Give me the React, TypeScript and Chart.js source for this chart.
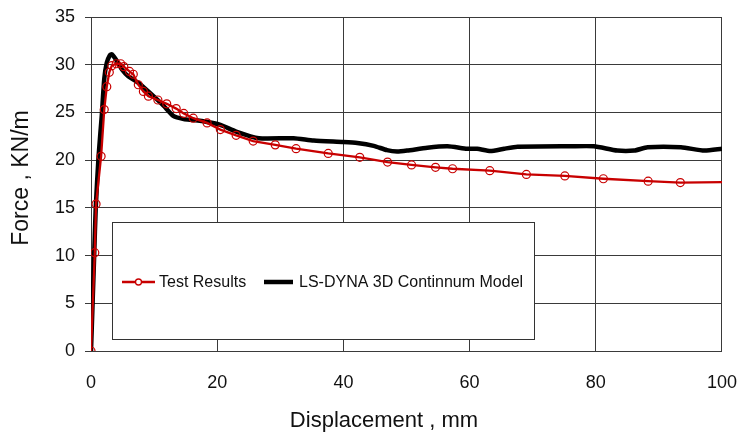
import React, { useEffect, useRef } from "react";
import { Chart, registerables } from "chart.js";

Chart.register(...registerables);

// Test Results (red, circle markers)
const testX = [0, 0.6, 0.8, 1.6, 2.1, 2.5, 2.9, 3.3, 4.0, 4.7, 5.2, 6.1, 6.7, 7.5, 8.3, 9.1, 10.6, 12.0, 13.5, 14.7, 16.2, 18.4, 20.5, 23.0, 25.7, 29.2, 32.5, 37.6, 42.6, 47.0, 50.8, 54.6, 57.3, 63.2, 69.0, 75.1, 81.2, 88.3, 93.4, 100];
const testY = [0, 10.3, 15.4, 20.4, 25.3, 27.7, 29.2, 29.9, 30.1, 30.1, 29.8, 29.3, 29.0, 27.9, 27.2, 26.7, 26.3, 25.9, 25.4, 24.9, 24.4, 23.9, 23.2, 22.6, 22.0, 21.6, 21.2, 20.7, 20.3, 19.8, 19.5, 19.25, 19.1, 18.9, 18.5, 18.35, 18.05, 17.8, 17.65, 17.7];

// LS-DYNA 3D Continnum Model (thick black)
const dynaX = [0, 0.5, 0.75, 1.2, 1.7, 2.1, 2.5, 3.0, 3.3, 4.1, 4.9, 5.9, 7.5, 9.9, 11.5, 13.1, 14.7, 16.2, 18.4, 20.5, 23.0, 26.6, 32.1, 35.3, 40.0, 42.2, 44.8, 46.9, 48.5, 50.1, 53.3, 56.5, 59.6, 61.2, 63.3, 65.5, 67.6, 76.0, 79.7, 83.4, 86.1, 88.2, 93.5, 97.2, 100];
const dynaY = [0, 10, 15, 20.4, 24.6, 28.5, 30.2, 31.0, 31.1, 30.4, 29.5, 28.8, 28.1, 26.7, 25.7, 24.6, 24.3, 24.2, 24.0, 23.7, 23.0, 22.3, 22.3, 22.05, 21.9, 21.8, 21.5, 21.05, 20.9, 21.0, 21.3, 21.45, 21.2, 21.2, 20.95, 21.2, 21.4, 21.45, 21.45, 21.0, 21.0, 21.35, 21.35, 21.0, 21.2];

const seriesNames = ["Test Results", "LS-DYNA 3D Continnum Model"];
const xTitle = "Displacement , mm";
const yTitle = "Force , KN/m";
const xRange = [0, 100, 20];
const yRange = [0, 35, 5];

const FONT = "'Liberation Sans', Arial, Helvetica, sans-serif";
const RED = "#C80000";
const GRID = "#3a3a3a";

const boxLegend = {
  id: "boxLegend",
  afterDatasetsDraw(chart: any) {
    const ctx = chart.ctx as CanvasRenderingContext2D;
    ctx.save();
    const x0 = 112.5, y0 = 222.5, x1 = 534.5, y1 = 339.5;
    ctx.fillStyle = "#ffffff";
    ctx.fillRect(x0, y0, x1 - x0, y1 - y0);
    ctx.strokeStyle = "#333333";
    ctx.lineWidth = 1;
    ctx.strokeRect(x0, y0, x1 - x0, y1 - y0);
    const cy = 282;
    // red item
    ctx.strokeStyle = RED;
    ctx.lineWidth = 2.5;
    ctx.beginPath();
    ctx.moveTo(122, cy);
    ctx.lineTo(155, cy);
    ctx.stroke();
    ctx.lineWidth = 1.3;
    ctx.beginPath();
    ctx.arc(138.5, cy, 3, 0, Math.PI * 2);
    ctx.fillStyle = "#ffffff";
    ctx.fill();
    ctx.stroke();
    // black item
    ctx.strokeStyle = "#000000";
    ctx.lineWidth = 4.5;
    ctx.beginPath();
    ctx.moveTo(264, cy);
    ctx.lineTo(293, cy);
    ctx.stroke();
    ctx.fillStyle = "#111111";
    ctx.font = "16px " + FONT;
    ctx.textBaseline = "middle";
    ctx.textAlign = "left";
    ctx.fillText(seriesNames[0], 159, cy + 1);
    ctx.fillText(seriesNames[1], 299, cy + 1);

    // axis titles
    ctx.textAlign = "center";
    ctx.font = "22px " + FONT;
    ctx.fillText(xTitle, 384, 421);
    ctx.translate(22, 178);
    ctx.rotate(-Math.PI / 2);
    ctx.font = "23px " + FONT;
    ctx.fillText(yTitle, 0, 0);
    ctx.restore();
  },
};

export default function App() {
  const ref = useRef<HTMLCanvasElement | null>(null);
  useEffect(() => {
    if (!ref.current) return;
    const chart = new Chart(ref.current, {
      type: "line",
      data: {
        datasets: [
          {
            label: seriesNames[1],
            data: dynaX.map((x, i) => ({ x, y: dynaY[i] })),
            borderColor: "#000000",
            borderWidth: 4.5,
            pointRadius: 0,
            tension: 0.2,
            fill: false,
            order: 2,
          },
          {
            label: seriesNames[0],
            data: testX.map((x, i) => ({ x, y: testY[i] })),
            borderColor: RED,
            borderWidth: 2.3,
            pointRadius: testX.map((_, i) => (i === testX.length - 1 ? 0 : 4)),
            pointBorderColor: RED,
            pointBackgroundColor: "rgba(255,255,255,0)",
            pointBorderWidth: 1.2,
            tension: 0,
            fill: false,
            order: 1,
          },
        ],
      },
      options: {
        animation: false,
        responsive: false,
        devicePixelRatio: 1,
        layout: { padding: { left: 0, top: 17, right: 0, bottom: 0 } },
        plugins: { legend: { display: false }, tooltip: { enabled: false } },
        scales: {
          x: {
            type: "linear",
            min: xRange[0],
            max: xRange[1],
            ticks: { stepSize: xRange[2], color: "#111", font: { family: FONT, size: 18 }, padding: 2 },
            grid: { color: GRID, lineWidth: 1, drawTicks: true, tickLength: 19, tickColor: "rgba(0,0,0,0)" },
            border: { color: GRID, width: 1 },
            title: { display: false, text: xTitle },
            afterFit: (s: any) => { s.height = 85; },
          },
          y: {
            type: "linear",
            min: yRange[0],
            max: yRange[1],
            ticks: { stepSize: yRange[2], color: "#111", font: { family: FONT, size: 18, lineHeight: 0.7 }, padding: 10 },
            grid: { color: GRID, lineWidth: 1, tickLength: 6 },
            border: { color: GRID, width: 1 },
            title: { display: false, text: yTitle },
            afterFit: (s: any) => { s.width = 91; },
          },
        },
      },
      plugins: [boxLegend],
    });
    return () => chart.destroy();
  }, []);
  return (
    <div style={{ position: "absolute", left: 0, top: 0, width: 739, height: 436, background: "#fff" }}>
      <canvas ref={ref} width={739} height={436} />
    </div>
  );
}
